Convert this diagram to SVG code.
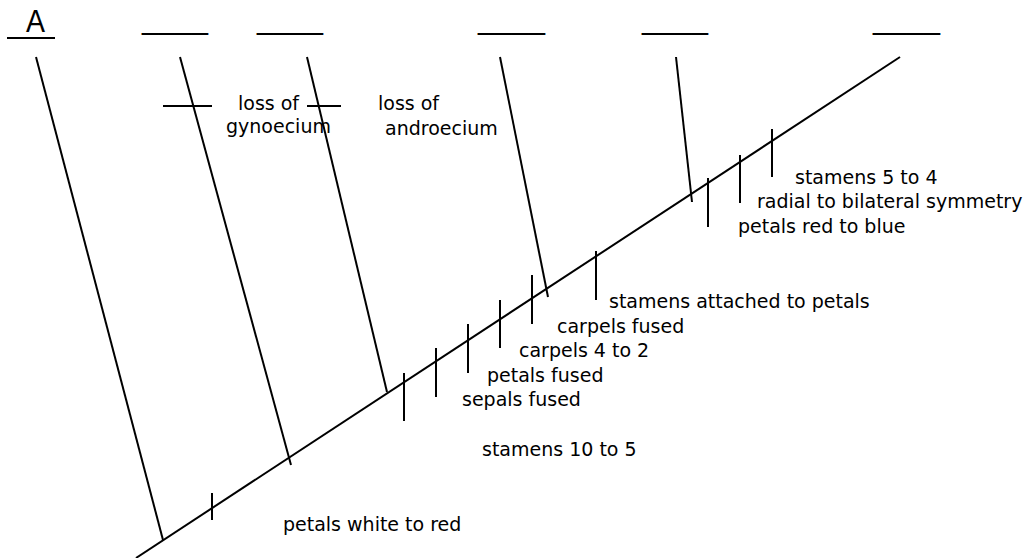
<svg xmlns="http://www.w3.org/2000/svg" width="1028" height="558" viewBox="0 0 1028 558">
<style>
.ln{stroke:#000;stroke-width:2;fill:none;stroke-linecap:butt}
.lbl{font-family:"DejaVu Sans",sans-serif;font-size:19px;fill:#000}
.blank{font-family:"Liberation Sans",Arial,sans-serif;font-size:30px;fill:#000}
</style>
<rect width="1028" height="558" fill="#fff"/>
<g id="taxa">
<g id="taxon-A"><text class="blank" x="26" y="32" style="font-size:32px" textLength="19" lengthAdjust="spacingAndGlyphs">A</text><line class="ln" x1="7" y1="38" x2="55" y2="38"/></g>
<g id="taxon-2"><text class="blank" x="142" y="29" textLength="66" lengthAdjust="spacingAndGlyphs">____</text></g>
<g id="taxon-3"><text class="blank" x="257" y="29" textLength="66" lengthAdjust="spacingAndGlyphs">____</text></g>
<g id="taxon-4"><text class="blank" x="478" y="29" textLength="67" lengthAdjust="spacingAndGlyphs">____</text></g>
<g id="taxon-5"><text class="blank" x="642" y="29" textLength="66" lengthAdjust="spacingAndGlyphs">____</text></g>
<g id="taxon-6"><text class="blank" x="873" y="29" textLength="67" lengthAdjust="spacingAndGlyphs">____</text></g>
</g>
<g id="connectors">
<line class="ln" x1="136" y1="558" x2="900" y2="57"/>
<line class="ln" x1="36" y1="57" x2="163" y2="540"/>
<line class="ln" x1="180" y1="57" x2="291" y2="465"/>
<line class="ln" x1="307" y1="57" x2="387" y2="392"/>
<line class="ln" x1="500" y1="57" x2="548" y2="297"/>
<line class="ln" x1="676" y1="57" x2="692" y2="202"/>
<line class="ln" x1="163" y1="106" x2="212" y2="106"/>
<line class="ln" x1="307" y1="106" x2="341" y2="106"/>
<line class="ln" x1="212" y1="493" x2="212" y2="520"/>
<line class="ln" x1="404" y1="373" x2="404" y2="421"/>
<line class="ln" x1="436" y1="348" x2="436" y2="397"/>
<line class="ln" x1="468" y1="324" x2="468" y2="373"/>
<line class="ln" x1="500" y1="300" x2="500" y2="348"/>
<line class="ln" x1="532" y1="275" x2="532" y2="324"/>
<line class="ln" x1="596" y1="251" x2="596" y2="300"/>
<line class="ln" x1="708" y1="178" x2="708" y2="227"/>
<line class="ln" x1="740" y1="155" x2="740" y2="203"/>
<line class="ln" x1="772" y1="129" x2="772" y2="177"/>
</g>
<g id="characters">
<text class="lbl" x="238" y="110">loss of</text>
<text class="lbl" x="226" y="133">gynoecium</text>
<text class="lbl" x="378" y="110">loss of</text>
<text class="lbl" x="385" y="135">androecium</text>
<text class="lbl" x="795" y="184">stamens 5 to 4</text>
<text class="lbl" x="757" y="208">radial to bilateral symmetry</text>
<text class="lbl" x="738" y="233">petals red to blue</text>
<text class="lbl" x="609" y="308">stamens attached to petals</text>
<text class="lbl" x="557" y="333">carpels fused</text>
<text class="lbl" x="519" y="357">carpels 4 to 2</text>
<text class="lbl" x="487" y="382">petals fused</text>
<text class="lbl" x="462" y="406">sepals fused</text>
<text class="lbl" x="482" y="456">stamens 10 to 5</text>
<text class="lbl" x="283" y="531">petals white to red</text>
</g>
</svg>
